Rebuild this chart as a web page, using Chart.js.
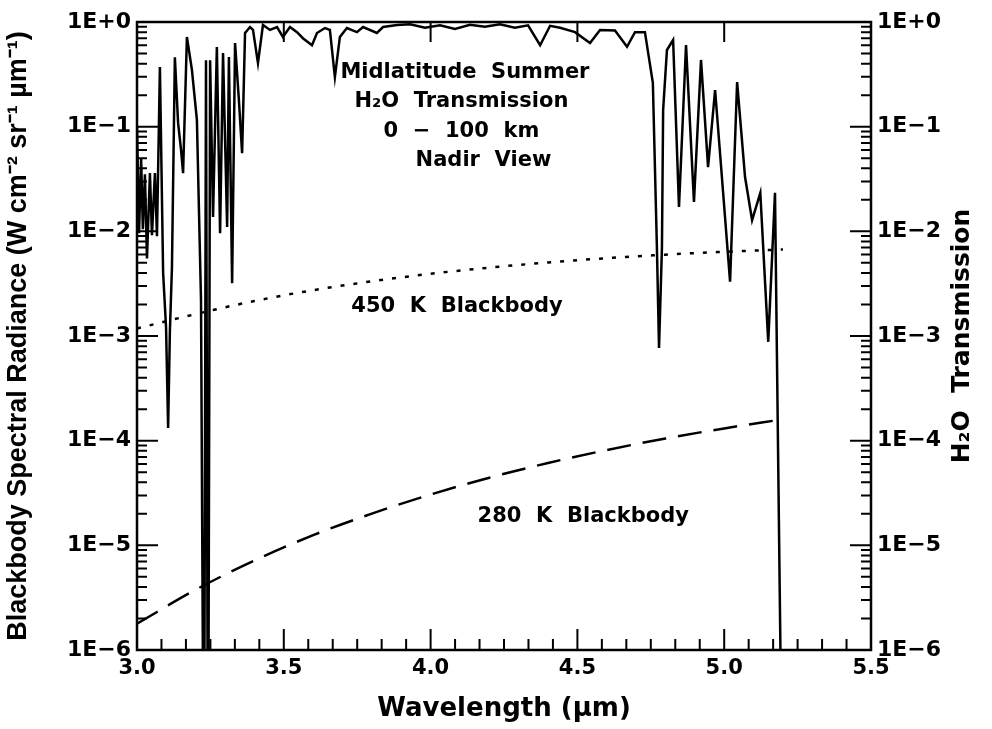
<!DOCTYPE html>
<html>
<head>
<meta charset="utf-8">
<script src="https://cdn.jsdelivr.net/npm/chart.js@4.4.0/dist/chart.umd.min.js"></script>
<style>
  body { margin: 0; background: #fff; }
</style>
</head>
<body>
<canvas id="chart" width="992" height="729"></canvas>
<script>
// H2O transmission, midlatitude summer, 0-100 km, nadir view
var transWave = [3.000, 3.007, 3.014, 3.020, 3.027, 3.034, 3.044, 3.051, 3.061, 3.068,
                 3.078, 3.089, 3.099, 3.106, 3.112, 3.119, 3.129, 3.140, 3.150, 3.157,
                 3.170, 3.187, 3.204, 3.218, 3.228, 3.235, 3.242, 3.249, 3.259, 3.272,
                 3.283, 3.293, 3.307, 3.313, 3.324, 3.334, 3.347, 3.358, 3.368, 3.385,
                 3.395, 3.412, 3.429, 3.453, 3.477, 3.497, 3.521, 3.545, 3.565, 3.596,
                 3.613, 3.640, 3.657, 3.674, 3.691, 3.715, 3.749, 3.770, 3.817, 3.838,
                 3.886, 3.930, 3.981, 4.032, 4.083, 4.134, 4.185, 4.236, 4.287, 4.332,
                 4.373, 4.407, 4.441, 4.492, 4.543, 4.577, 4.628, 4.669, 4.696, 4.730,
                 4.757, 4.771, 4.778, 4.788, 4.792, 4.805, 4.826, 4.846, 4.870, 4.897,
                 4.921, 4.945, 4.969, 5.020, 5.044, 5.071, 5.095, 5.123, 5.150, 5.173,
                 5.200];
var transValue = [0.10, 0.0096, 0.050, 0.0105, 0.035, 0.0055, 0.036, 0.0092, 0.036, 0.0090,
                  0.372, 0.0040, 0.0012, 0.000132, 0.0011, 0.0045, 0.46, 0.108, 0.060, 0.036,
                  0.72, 0.35, 0.116, 0.0022, 1e-8, 0.43, 1e-8, 0.43, 0.0137, 0.577,
                  0.0096, 0.506, 0.011, 0.463, 0.0032, 0.63, 0.18, 0.0557, 0.785, 0.896,
                  0.84, 0.406, 0.936, 0.84, 0.896, 0.72, 0.896, 0.80, 0.70, 0.60,
                  0.785, 0.876, 0.84, 0.298, 0.72, 0.876, 0.80, 0.896, 0.785, 0.896,
                  0.936, 0.95, 0.88, 0.93, 0.86, 0.94, 0.90, 0.95, 0.88, 0.93,
                  0.60, 0.92, 0.88, 0.80, 0.63, 0.84, 0.83, 0.58, 0.80, 0.80,
                  0.262, 0.0066, 0.00077, 0.0071, 0.144, 0.54, 0.673, 0.0171, 0.603, 0.0191,
                  0.434, 0.0411, 0.224, 0.0033, 0.267, 0.0330, 0.0128, 0.0233, 0.00088, 0.0233,
                  1e-8];

// blackbody spectral radiance, W cm-2 sr-1 um-1
var bbWave = [3.0, 3.2, 3.4, 3.6, 3.8, 4.0, 4.2, 4.4, 4.6, 4.8, 5.0, 5.2];
var bb450 = [1.18e-3, 1.62e-3, 2.16e-3, 2.74e-3, 3.33e-3, 3.93e-3, 4.50e-3, 5.04e-3, 5.54e-3, 5.99e-3, 6.38e-3, 6.70e-3];
var bb280 = [1.78e-6, 3.77e-6, 7.15e-6, 1.25e-5, 2.01e-5, 3.06e-5, 4.43e-5, 6.12e-5, 8.14e-5, 1.05e-4, 1.31e-4, 1.60e-4];

var xTickValues = [3.0, 3.5, 4.0, 4.5, 5.0, 5.5];
var xTickLabels = ['3.0', '3.5', '4.0', '4.5', '5.0', '5.5'];
var yTickValues = [1e-6, 1e-5, 1e-4, 1e-3, 1e-2, 1e-1, 1];
var yTickLabels = ['1E\u22126', '1E\u22125', '1E\u22124', '1E\u22123', '1E\u22122', '1E\u22121', '1E+0'];

// text notes inside the plot, placed in data units
var noteText = ['Midlatitude  Summer', 'H\u2082O  Transmission', '0  \u2212  100  km', 'Nadir  View',
                '450  K  Blackbody', '280  K  Blackbody'];
var noteWave = [4.117, 4.105, 4.105, 4.18, 4.09, 4.52];
var noteValue = [0.33, 0.172, 0.089, 0.047, 1.9e-3, 1.87e-5];

var geoFont = 'DejaVu Sans';

function pairs(xs, ys) {
    return xs.map(function(x, i) { return {x: x, y: ys[i]}; });
}

var frameTicks = {
    id: 'frameTicks',
    beforeDraw: function(chart) {
        var ctx = chart.ctx;
        ctx.save();
        ctx.fillStyle = '#fff';
        ctx.fillRect(0, 0, chart.width, chart.height);
        ctx.restore();
    },
    afterDatasetsDraw: function(chart) {
        var ctx = chart.ctx;
        var a = chart.chartArea;
        var sx = chart.scales.x, sy = chart.scales.y;
        ctx.save();
        ctx.strokeStyle = '#000';
        ctx.lineWidth = 2;
        ctx.beginPath();
        // bottom minor ticks every 1/12 um, majors at labels; top majors only
        for (var i = 0; i <= 30; i++) {
            var px = sx.getPixelForValue(3 + i / 12);
            var len = (i % 6 === 0) ? 21 : 11;
            ctx.moveTo(px, a.bottom);
            ctx.lineTo(px, a.bottom - len);
            if (i % 6 === 0) {
                ctx.moveTo(px, a.top);
                ctx.lineTo(px, a.top + 20);
            }
        }
        // left and right log ticks
        for (var d = -6; d <= 0; d++) {
            for (var m = 1; m <= 9; m++) {
                if (d === 0 && m > 1) break;
                var py = sy.getPixelForValue(m * Math.pow(10, d));
                var l = (m === 1) ? 21 : 10;
                ctx.moveTo(a.left, py);
                ctx.lineTo(a.left + l, py);
                ctx.moveTo(a.right, py);
                ctx.lineTo(a.right - l, py);
            }
        }
        ctx.stroke();
        ctx.lineWidth = 2.5;
        ctx.strokeRect(a.left, a.top, a.right - a.left, a.bottom - a.top);

        // notes
        ctx.fillStyle = '#000';
        ctx.font = 'bold 21px "' + geoFont + '"';
        ctx.textAlign = 'center';
        ctx.textBaseline = 'middle';
        for (var k = 0; k < noteText.length; k++) {
            ctx.fillText(noteText[k], sx.getPixelForValue(noteWave[k]), sy.getPixelForValue(noteValue[k]));
        }

        // right axis title, reading bottom to top
        ctx.translate(a.right + 91, (a.top + a.bottom) / 2);
        ctx.rotate(-Math.PI / 2);
        ctx.font = 'bold 25px "' + geoFont + '"';
        ctx.fillText('H\u2082O  Transmission', 0, 0);
        ctx.restore();
    }
};

var tickFont = {family: geoFont, weight: 'bold', size: 21};

new Chart(document.getElementById('chart'), {
    type: 'line',
    data: {
        datasets: [{
            label: 'H2O Transmission',
            data: pairs(transWave, transValue),
            borderColor: '#000',
            borderWidth: 2.5,
            pointRadius: 0,
            tension: 0,
            yAxisID: 'y1'
        }, {
            label: '450 K Blackbody',
            data: pairs(bbWave, bb450),
            borderColor: '#000',
            borderWidth: 2.5,
            borderDash: [4, 9],
            pointRadius: 0,
            cubicInterpolationMode: 'monotone',
            yAxisID: 'y'
        }, {
            label: '280 K Blackbody',
            data: pairs(bbWave, bb280),
            borderColor: '#000',
            borderWidth: 2.5,
            borderDash: [24, 12],
            pointRadius: 0,
            cubicInterpolationMode: 'monotone',
            yAxisID: 'y'
        }]
    },
    options: {
        responsive: false,
        animation: false,
        devicePixelRatio: 1,
        layout: {padding: {top: 22, left: 0, right: 0, bottom: 0}},
        plugins: {
            legend: {display: false},
            tooltip: {enabled: false}
        },
        scales: {
            x: {
                type: 'linear',
                min: 3.0,
                max: 5.5,
                afterBuildTicks: function(scale) {
                    scale.ticks = xTickValues.map(function(v) { return {value: v}; });
                },
                afterFit: function(scale) { scale.height = 79; },
                ticks: {
                    autoSkip: false,
                    maxRotation: 0,
                    padding: 6,
                    color: '#000',
                    font: tickFont,
                    callback: function(v, i) { return xTickLabels[i]; }
                },
                grid: {display: false, drawTicks: false},
                border: {display: false},
                title: {
                    display: true,
                    text: 'Wavelength (\u00b5m)',
                    color: '#000',
                    font: {family: geoFont, weight: 'bold', size: 26},
                    padding: {top: 0, bottom: 4}
                }
            },
            y: {
                type: 'logarithmic',
                position: 'left',
                min: 1e-6,
                max: 1,
                afterBuildTicks: function(scale) {
                    scale.ticks = yTickValues.map(function(v) { return {value: v}; });
                },
                afterFit: function(scale) { scale.width = 137; },
                ticks: {
                    padding: 6,
                    color: '#000',
                    font: {family: geoFont, weight: 'bold', size: 22},
                    callback: function(v, i) { return yTickLabels[i]; }
                },
                grid: {display: false, drawTicks: false},
                border: {display: false},
                title: {
                    display: true,
                    text: 'Blackbody Spectral Radiance (W cm\u207b\u00b2 sr\u207b\u00b9 \u00b5m\u207b\u00b9)',
                    color: '#000',
                    font: {family: 'Liberation Sans', weight: 'bold', size: 27},
                    padding: {top: 2, bottom: 0}
                }
            },
            y1: {
                type: 'logarithmic',
                position: 'right',
                min: 1e-6,
                max: 1,
                afterBuildTicks: function(scale) {
                    scale.ticks = yTickValues.map(function(v) { return {value: v}; });
                },
                afterFit: function(scale) { scale.width = 121; },
                ticks: {
                    padding: 6,
                    color: '#000',
                    font: {family: geoFont, weight: 'bold', size: 22},
                    callback: function(v, i) { return yTickLabels[i]; }
                },
                grid: {display: false, drawTicks: false},
                border: {display: false}
            }
        }
    },
    plugins: [frameTicks]
});
</script>
</body>
</html>
